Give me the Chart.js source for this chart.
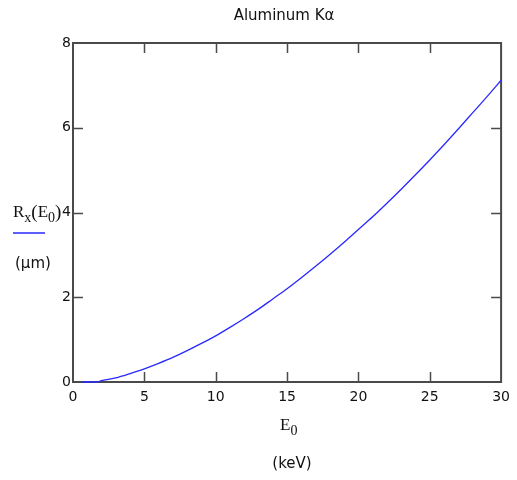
<!DOCTYPE html>
<html>
<head>
<meta charset="utf-8">
<script src="https://cdn.jsdelivr.net/npm/chart.js@4"></script>
<style>
  html, body { margin: 0; padding: 0; background: #fff; }
  #wrap { width: 517px; height: 480px; }
</style>
</head>
<body>
<div id="wrap"><canvas id="chart" width="517" height="480"></canvas></div>
<script>
// E0 in keV, Rx in micrometres
const energies = [0.6, 1.0, 1.6, 2, 3, 4, 5, 6, 7, 8, 9, 10, 11, 12, 13, 14, 15,
    16, 17, 18, 19, 20, 21, 22, 23, 24, 25, 26, 27, 28, 29, 30];
const ranges = [0, 0, 0, 0.03, 0.10, 0.20, 0.31, 0.44, 0.58, 0.74, 0.91, 1.09, 1.29, 1.50, 1.72, 1.96, 2.20,
    2.46, 2.73, 3.01, 3.30, 3.60, 3.90, 4.22, 4.55, 4.89, 5.24, 5.60, 5.97, 6.35, 6.73, 7.12];
const xTicks = [0, 5, 10, 15, 20, 25, 30];
const yTicks = [0, 2, 4, 6, 8];

const chartTitle = 'Aluminum Kα';
const textColor = '#111';
const frameColor = '#4a4a4a';
const lineColor = 'rgb(40, 40, 255)';

// draws a run of text pieces, each with its own font and vertical shift
function drawRun(ctx, x, y, parts) {
    parts.forEach(p => {
        ctx.font = p.font;
        ctx.fillText(p.text, x, y + (p.dy || 0));
        x += ctx.measureText(p.text).width;
    });
}

const framePlugin = {
    id: 'frame',
    beforeDatasetsDraw(chart) {
        const ctx = chart.ctx;
        const area = chart.chartArea;
        const xs = chart.scales.x;
        const ys = chart.scales.y;
        const tickLen = 10;

        ctx.save();
        ctx.strokeStyle = frameColor;
        ctx.lineWidth = 2;
        ctx.strokeRect(area.left, area.top, area.right - area.left, area.bottom - area.top);

        ctx.lineWidth = 1.5;
        ctx.beginPath();
        xTicks.slice(1, -1).forEach(v => {
            const px = Math.round(xs.getPixelForValue(v)) + 0.5;
            ctx.moveTo(px, area.bottom);
            ctx.lineTo(px, area.bottom - tickLen);
            ctx.moveTo(px, area.top);
            ctx.lineTo(px, area.top + tickLen);
        });
        yTicks.slice(1, -1).forEach(v => {
            const py = Math.round(ys.getPixelForValue(v)) + 0.5;
            ctx.moveTo(area.left, py);
            ctx.lineTo(area.left + tickLen, py);
            ctx.moveTo(area.right, py);
            ctx.lineTo(area.right - tickLen, py);
        });
        ctx.stroke();

        // title
        ctx.fillStyle = textColor;
        ctx.textAlign = 'center';
        ctx.textBaseline = 'middle';
        ctx.font = '15px "DejaVu Sans"';
        ctx.fillText(chartTitle, (area.left + area.right) / 2 - 3, 16);

        // y axis label
        ctx.textAlign = 'left';
        ctx.textBaseline = 'alphabetic';
        const serif = '17px "Liberation Serif"';
        const serifSub = '14px "Liberation Serif"';
        const serifParen = '19px "Liberation Serif"';
        drawRun(ctx, 13, 217, [
            { text: 'R', font: serif },
            { text: 'x', font: serifSub, dy: 5 },
            { text: '(', font: serifParen, dy: 1 },
            { text: 'E', font: serif },
            { text: '0', font: serifSub, dy: 5 },
            { text: ')', font: serifParen, dy: 1 }
        ]);
        ctx.strokeStyle = lineColor;
        ctx.lineWidth = 1.5;
        ctx.beginPath();
        ctx.moveTo(13, 233);
        ctx.lineTo(45, 233);
        ctx.stroke();

        ctx.textBaseline = 'middle';
        ctx.font = '15px "DejaVu Sans"';
        ctx.fillText('(μm)', 15, 264);

        // x axis label
        ctx.textBaseline = 'alphabetic';
        drawRun(ctx, 280, 430, [
            { text: 'E', font: serif },
            { text: '0', font: serifSub, dy: 5 }
        ]);
        ctx.textAlign = 'center';
        ctx.textBaseline = 'middle';
        ctx.font = '15px "DejaVu Sans"';
        ctx.fillText('(keV)', 292, 464);
        ctx.restore();
    }
};

const tickFont = { family: '"DejaVu Sans"', size: 14 };

new Chart(document.getElementById('chart'), {
    type: 'line',
    data: {
        datasets: [{
            data: energies.map((e, i) => ({ x: e, y: ranges[i] })),
            borderColor: lineColor,
            borderWidth: 1.3,
            pointRadius: 0,
            cubicInterpolationMode: 'monotone',
            clip: 2,
            fill: false
        }]
    },
    options: {
        responsive: false,
        animation: false,
        layout: { padding: { top: 43, right: 15, left: 0, bottom: 0 } },
        plugins: {
            legend: { display: false },
            title: { display: false },
            tooltip: { enabled: false }
        },
        scales: {
            x: {
                type: 'linear',
                min: 0,
                max: 30,
                afterFit: s => { s.height = 98; },
                afterBuildTicks: s => { s.ticks = xTicks.map(v => ({ value: v })); },
                ticks: { color: textColor, font: tickFont, padding: 7, maxRotation: 0 },
                grid: { display: false, drawTicks: false },
                border: { display: false }
            },
            y: {
                min: 0,
                max: 8,
                afterFit: s => { s.width = 73; },
                afterBuildTicks: s => { s.ticks = yTicks.map(v => ({ value: v })); },
                ticks: { color: textColor, font: tickFont, padding: 2 },
                grid: { display: false, drawTicks: false },
                border: { display: false }
            }
        }
    },
    plugins: [framePlugin]
});
</script>
</body>
</html>
